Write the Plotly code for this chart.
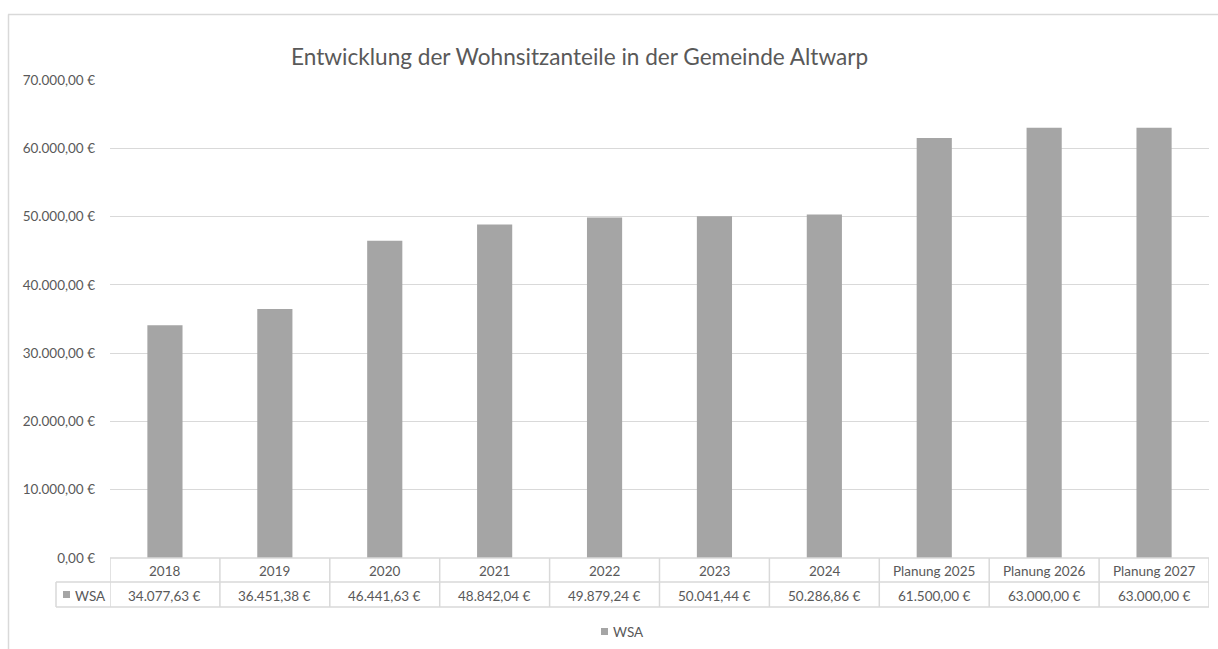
import plotly.graph_objects as go

categories = ["2018", "2019", "2020", "2021", "2022", "2023", "2024",
              "Planung 2025", "Planung 2026", "Planung 2027"]
wsa_values = [34077.63, 36451.38, 46441.63, 48842.04, 49879.24, 50041.44,
              50286.86, 61500.00, 63000.00, 63000.00]
series_name = "WSA"
title_text = "Entwicklung der Wohnsitzanteile in der Gemeinde Altwarp"

W, H = 1218, 649
FONT = "Lato"
TXT = "#595959"
GRID = "#d9d9d9"
BAR = "#a5a5a5"
SMALL = 13.5


def eur(v):
    s = f"{v:,.2f}"
    s = s.replace(",", "X").replace(".", ",").replace("X", ".")
    return s + " €"


def px_x(p):
    return p / W


def px_y(p):
    return 1 - p / H


x0, x1 = 110, 1209
y_top, y_zero = 80, 558
row1, row2 = 582, 607
label_left = 56

fig = go.Figure()
fig.add_trace(go.Bar(
    x=list(range(len(categories))), y=wsa_values, name=series_name,
    marker=dict(color=BAR, line=dict(width=0)),
    showlegend=False,
))

fig.update_layout(
    width=W, height=H, autosize=False,
    margin=dict(l=0, r=0, t=0, b=0, pad=0, autoexpand=False),
    paper_bgcolor="white", plot_bgcolor="white",
    separators=",.",
    font=dict(family=FONT, color=TXT, size=SMALL),
    bargap=0.68,
    xaxis=dict(domain=[px_x(x0), px_x(x1)], showticklabels=False,
               type="linear", automargin=False,
               showgrid=False, zeroline=False, showline=False,
               range=[-0.5, len(categories) - 0.5], fixedrange=True),
    yaxis=dict(domain=[px_y(y_zero), px_y(y_top)], range=[0, 70000],
               dtick=10000, tickformat=",.2f", ticksuffix=" €",
               automargin=False, fixedrange=True,
               showgrid=True, gridcolor=GRID, gridwidth=1,
               zeroline=False, showline=False, ticks="",
               ticklabelstandoff=14,
               tickfont=dict(family=FONT, size=SMALL, color=TXT)),
    showlegend=False,
)

shapes = []
# chart border (top and left)
shapes.append(dict(type="line", xref="paper", yref="paper",
                   x0=px_x(8), x1=1.0, y0=px_y(14.5), y1=px_y(14.5),
                   line=dict(color=GRID, width=1.5)))
shapes.append(dict(type="line", xref="paper", yref="paper",
                   x0=px_x(8.5), x1=px_x(8.5), y0=px_y(14.5), y1=0,
                   line=dict(color=GRID, width=1.5)))

# data table lines
line_style = dict(color=GRID, width=1.5)
shapes.append(dict(type="line", xref="paper", yref="paper",
                   x0=px_x(x0), x1=px_x(x1), y0=px_y(y_zero), y1=px_y(y_zero),
                   line=line_style))
for yy in (row1, row2):
    shapes.append(dict(type="line", xref="paper", yref="paper",
                       x0=px_x(label_left), x1=px_x(x1), y0=px_y(yy), y1=px_y(yy),
                       line=line_style))
shapes.append(dict(type="line", xref="paper", yref="paper",
                   x0=px_x(label_left), x1=px_x(label_left),
                   y0=px_y(row1), y1=px_y(row2), line=line_style))
for i in range(len(categories) + 1):
    shapes.append(dict(type="line", xref="x", yref="paper",
                       x0=i - 0.5, x1=i - 0.5, y0=px_y(y_zero), y1=px_y(row2),
                       line=line_style))
# legend key in table
shapes.append(dict(type="rect", xref="paper", yref="paper",
                   x0=px_x(63), x1=px_x(70), y0=px_y(591), y1=px_y(598),
                   fillcolor=BAR, line=dict(width=0)))
# bottom legend key
shapes.append(dict(type="rect", xref="paper", yref="paper",
                   x0=px_x(601), x1=px_x(608), y0=px_y(628), y1=px_y(635),
                   fillcolor=BAR, line=dict(width=0)))

annotations = []
annotations.append(dict(text=title_text, xref="paper", yref="paper",
                        x=px_x(579), y=px_y(57), xanchor="center", yanchor="middle",
                        showarrow=False,
                        font=dict(family=FONT, size=22.6, color=TXT)))
for i, (c, v) in enumerate(zip(categories, wsa_values)):
    annotations.append(dict(text=c, xref="x", yref="paper", x=i,
                            y=px_y((y_zero + row1) / 2 + 1), xanchor="center",
                            yanchor="middle", showarrow=False,
                            font=dict(family=FONT, size=SMALL, color=TXT)))
    annotations.append(dict(text=eur(v), xref="x", yref="paper", x=i,
                            y=px_y((row1 + row2) / 2 + 1), xanchor="center",
                            yanchor="middle", showarrow=False,
                            font=dict(family=FONT, size=SMALL, color=TXT)))
annotations.append(dict(text=series_name, xref="paper", yref="paper",
                        x=px_x(73), y=px_y((row1 + row2) / 2 + 1),
                        xanchor="left", yanchor="middle", showarrow=False,
                        font=dict(family=FONT, size=SMALL, color=TXT)))
annotations.append(dict(text=series_name, xref="paper", yref="paper",
                        x=px_x(611), y=px_y(632),
                        xanchor="left", yanchor="middle", showarrow=False,
                        font=dict(family=FONT, size=SMALL, color=TXT)))

fig.update_layout(shapes=shapes, annotations=annotations)
fig.write_html(
    "out.html",
    config={"displayModeBar": False, "responsive": False},
    post_script="document.documentElement.style.margin='0';document.body.style.margin='0';document.body.style.overflow='hidden';",
)
